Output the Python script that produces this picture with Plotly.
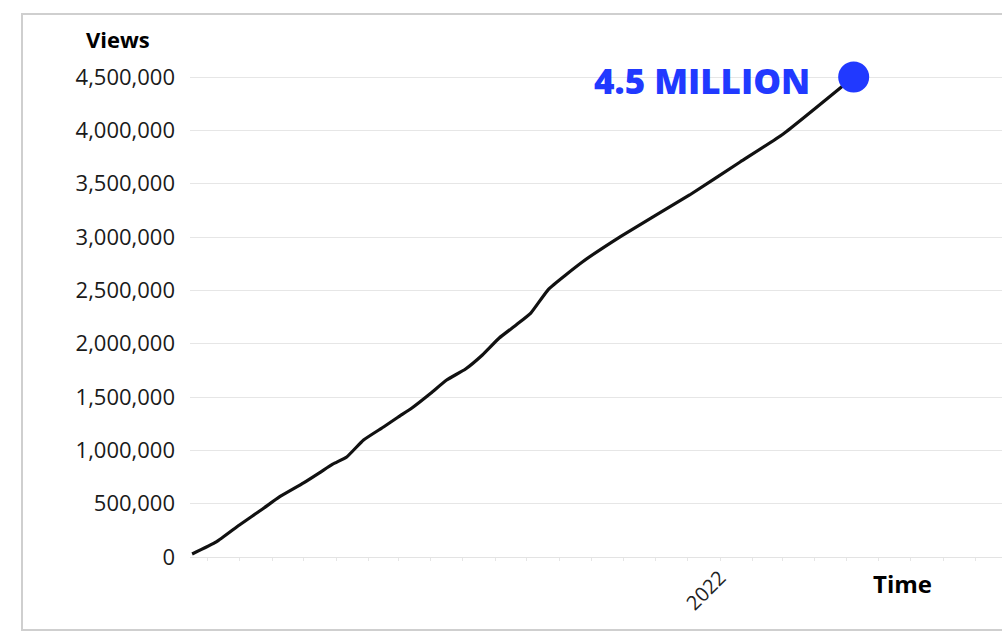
import plotly.graph_objects as go

dates = ["2020-08-17", "2020-09-09", "2020-10-01", "2020-10-23", "2020-11-08",
         "2020-12-01", "2020-12-16", "2020-12-29", "2021-01-11", "2021-01-27",
         "2021-02-15", "2021-03-01", "2021-03-14", "2021-03-31", "2021-04-16",
         "2021-05-04", "2021-05-20", "2021-06-05", "2021-06-21", "2021-07-05",
         "2021-07-22", "2021-08-23", "2021-09-29", "2021-12-03",
         "2022-01-20", "2022-03-02", "2022-05-08"]
views = [28000, 141000, 300000, 450000, 563000,
         694000, 788000, 872000, 938000, 1097000,
         1219000, 1313000, 1397000, 1528000, 1659000,
         1763000, 1894000, 2053000, 2175000, 2287000,
         2512000, 2766000, 3009000, 3394000,
         3703000, 3966000, 4500000]
y_ticks = [0, 500000, 1000000, 1500000, 2000000, 2500000, 3000000, 3500000, 4000000, 4500000]
x_tick = ["2022-01-01"]
x_tick_text = ["2022"]
peak_label = "4.5 MILLION"

BLUE = "#2139ff"
FONT = "Open Sans"

W, H = 1002, 632
L, R, T, B = 190, 0, 60, 75
pw, ph = W - L - R, H - T - B


def px2paper(x, y):
    return (x - L) / pw, (H - B - y) / ph


fig = go.Figure()
fig.add_trace(go.Scatter(x=dates, y=views, mode="lines",
                         line=dict(color="#111111", width=3.2, shape="spline", smoothing=0.4),
                         hoverinfo="skip", showlegend=False))
fig.add_trace(go.Scatter(x=[dates[-1]], y=[views[-1]], mode="markers",
                         marker=dict(color=BLUE, size=31, line=dict(width=0)),
                         cliponaxis=False, showlegend=False))

fig.add_annotation(x=dates[-1], y=views[-1], xref="x", yref="y",
                   text=peak_label, showarrow=False, xanchor="right",
                   xshift=-42, yshift=-3,
                   font=dict(family=FONT, size=35, color=BLUE, weight=800))
ax, ay = px2paper(118, 39)
fig.add_annotation(x=ax, y=ay, xref="paper", yref="paper", text="<b>Views</b>",
                   xanchor="center", yanchor="middle",
                   showarrow=False, font=dict(family=FONT, size=22, color="#000"))
tx, ty = px2paper(902, 583)
fig.add_annotation(x=tx, y=ty, xref="paper", yref="paper", text="<b>Time</b>",
                   xanchor="center", yanchor="middle",
                   showarrow=False, font=dict(family=FONT, size=24, color="#000"))

x0, y0 = px2paper(22, 630)
x1, y1 = px2paper(1010, 14)
fig.add_shape(type="rect", xref="paper", yref="paper", x0=x0, y0=y0, x1=x1, y1=y1,
              line=dict(color="#cfcfcf", width=2), layer="below")

yr_top = 4500000 + (77 - T) * 9375

fig.update_layout(
    width=W, height=H,
    margin=dict(l=L, r=R, t=T, b=B),
    paper_bgcolor="white", plot_bgcolor="white",
    font=dict(family=FONT, color="#222"),
    xaxis=dict(type="date", range=["2020-08-15", "2022-09-26"],
               tickvals=x_tick, ticktext=x_tick_text, tickangle=-45,
               tickfont=dict(size=20, color="#222"),
               showgrid=False, zeroline=False, showline=True,
               linecolor="#e3e3e3", linewidth=1,
               ticks="", ticklabelstandoff=0,
               minor=dict(ticks="outside", dtick="M1", ticklen=3,
                          tickcolor="#e6e6e6", showgrid=False)),
    yaxis=dict(range=[0, yr_top], tickvals=y_ticks,
               tickformat=",d", tickfont=dict(size=22, color="#1a1a1a"),
               showgrid=True, gridcolor="#e6e6e6", gridwidth=1,
               zeroline=False, showline=False, ticks="",
               ticklabelstandoff=14),
)

fig.write_html("out.html")
